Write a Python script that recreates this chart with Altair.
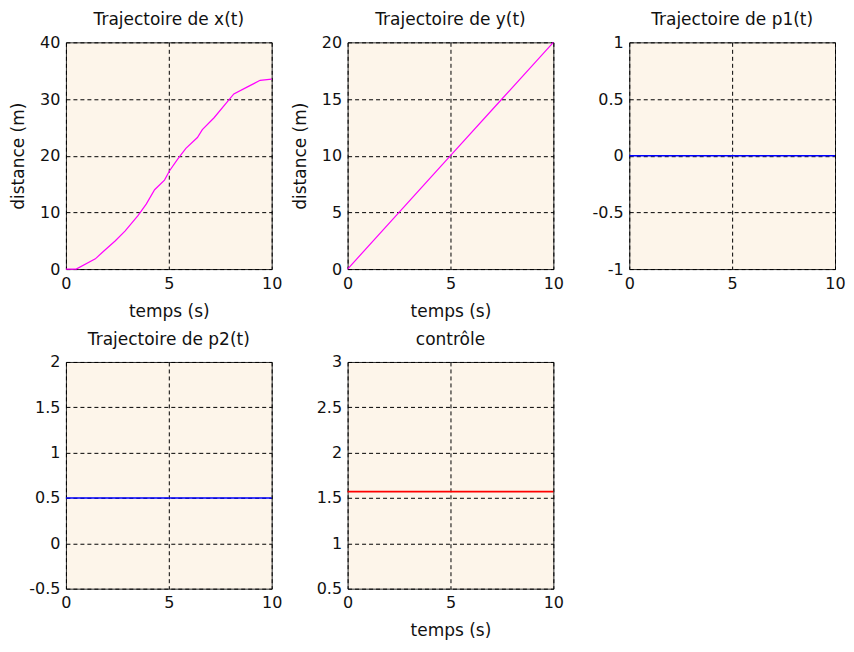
import altair as alt
import pandas as pd

# ---- data ----
t_x = [0, 0.5, 1.43, 1.83, 2.39, 2.87, 3.51, 3.91, 4.31, 4.79, 5.03, 5.43, 5.83, 6.39, 6.63, 7.2, 8.16, 8.8, 9.44, 10]
x_vals = [0, 0, 1.8, 3.15, 4.96, 6.7, 9.46, 11.5, 14.0, 15.7, 17.3, 19.4, 21.3, 23.2, 24.6, 26.7, 30.9, 32.1, 33.3, 33.5]

t_y = [0, 2.5, 5, 7.5, 10]
y_vals = [0, 5, 10, 15, 20]

t_const = [0, 10]
p1_vals = [0, 0]
p2_vals = [0.5, 0.5]
u_vals = [1.57, 1.57]

titles = ["Trajectoire de x(t)", "Trajectoire de y(t)", "Trajectoire de p1(t)",
          "Trajectoire de p2(t)", "contrôle"]
x_ticks = [0, 5, 10]

FONT = "DejaVu Sans"
W, H = 206, 227


def panel(t, v, color, title, ydom, yticks, xtitle, ytitle, sw=1.2):
    df = pd.DataFrame({"t": t, "v": v})
    xax = dict(values=x_ticks, labelExpr="'' + datum.value", title=xtitle)
    yax = dict(values=yticks, labelExpr="'' + datum.value", title=ytitle)
    return alt.Chart(df).mark_line(color=color, strokeWidth=sw).encode(
        x=alt.X("t:Q", scale=alt.Scale(domain=[0, 10], nice=False, zero=False),
                axis=alt.Axis(**xax)),
        y=alt.Y("v:Q", scale=alt.Scale(domain=ydom, nice=False, zero=False),
                axis=alt.Axis(**yax)),
    ).properties(width=W, height=H, title=title)


c1 = panel(t_x, x_vals, "#ff00ff", titles[0], [0, 40], [0, 10, 20, 30, 40], "temps (s)", "distance (m)")
c2 = panel(t_y, y_vals, "#ff00ff", titles[1], [0, 20], [0, 5, 10, 15, 20], "temps (s)", "distance (m)")
c3 = panel(t_const, p1_vals, "#0000ff", titles[2], [-1, 1], [-1, -0.5, 0, 0.5, 1], None, None, 1.6)
c4 = panel(t_const, p2_vals, "#0000ff", titles[3], [-0.5, 2], [-0.5, 0, 0.5, 1, 1.5, 2], None, None, 1.6)
c5 = panel(t_const, u_vals, "#ff0000", titles[4], [0.5, 3], [0.5, 1, 1.5, 2, 2.5, 3], "temps (s)", None, 1.6)

chart = alt.concat(c1, c2, c3, c4, c5, columns=3,
                   spacing={"row": 93, "column": 76}).properties(
    bounds="flush",
    padding={"left": 1, "top": 2, "right": 0, "bottom": 0},
).configure_view(
    fill="#fdf5ea", stroke="#2b2b2b", strokeWidth=1
).configure_axis(
    domain=False, ticks=False,
    grid=True, gridColor="#000000", gridDash=[4, 3], gridOpacity=1, gridWidth=1,
    labelFont=FONT, labelFontSize=16, labelColor="#111111", labelPadding=6,
    titleFont=FONT, titleFontSize=17, titleFontWeight="normal", titleColor="#111111",
    labelFlush=False, labelOverlap=False,
).configure_axisX(
    titlePadding=12,
).configure_axisY(
    titlePadding=12,
).configure_title(
    font=FONT, fontSize=17, fontWeight="normal", color="#111111", offset=5, anchor="middle"
)

chart.save("out.html", embed_options={"renderer": "svg", "actions": False})
